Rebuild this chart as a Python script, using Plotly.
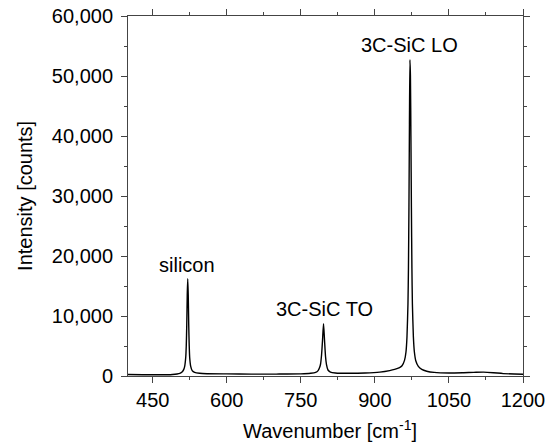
import plotly.graph_objects as go

# Raman spectrum
wavenumber = [400, 430, 460, 490, 505, 510, 513, 515, 517, 518, 519, 520, 521, 522, 523, 524, 525, 527, 530, 535, 545, 560,
              600, 650, 700, 750, 770, 780, 785, 788, 790, 792, 794, 796, 798, 800, 802, 805, 810, 820,
              850, 880, 910, 930, 940, 950, 955, 960, 963, 965, 967, 968, 969, 970, 971, 972, 973, 974, 975, 976, 978,
              980, 983, 988, 995, 1005, 1020, 1050, 1080, 1100, 1120, 1140, 1160, 1200]
intensity = [250, 220, 200, 260, 450, 700, 1100, 1700, 3200, 5000, 8500, 13500, 16200, 13500, 8500, 5000, 3000, 1600, 900, 600, 450, 380,
             350, 320, 320, 350, 450, 600, 900, 1400, 2000, 3500, 6000, 8700, 6000, 3300, 1900, 1000, 650, 500,
             450, 500, 650, 900, 1100, 1400, 1700, 2600, 4000, 6500, 12000, 18000, 28000, 42000, 52700, 50000, 40000, 28000, 18000, 12000, 6500,
             4000, 2500, 1600, 1100, 800, 600, 500, 550, 600, 650, 550, 400, 300]

peak_labels = ["silicon", "3C-SiC TO", "3C-SiC LO"]
label_x = [519.5, 797, 971]
label_y = [18500, 11200, 55200]

x_ticks = [450, 600, 750, 900, 1050, 1200]
y_ticks = [0, 10000, 20000, 30000, 40000, 50000, 60000]

x_title = "Wavenumber [cm<sup>-1</sup>]"
y_title = "Intensity [counts]"

FONT = "Liberation Sans, Arial, sans-serif"
FS = 20
AX = "#444444"

fig = go.Figure()
fig.add_trace(go.Scatter(x=wavenumber, y=intensity, mode="lines",
                         line=dict(color="black", width=1.4, shape="spline", smoothing=0.6),
                         showlegend=False, hoverinfo="skip"))

for t, xx, yy in zip(peak_labels, label_x, label_y):
    fig.add_annotation(x=xx, y=yy, text=t, showarrow=False,
                       font=dict(family=FONT, size=FS, color="black"))

# axis titles
fig.add_annotation(xref="paper", yref="paper", x=0.511, y=-0.15, text=x_title, showarrow=False,
                   xanchor="center", yanchor="middle", font=dict(family=FONT, size=FS, color="black"))
fig.add_annotation(xref="paper", yref="paper", x=-0.261, y=0.5, text=y_title, showarrow=False,
                   textangle=-90, xanchor="center", yanchor="middle",
                   font=dict(family=FONT, size=FS, color="black"))

axis_common = dict(showline=True, linecolor=AX, linewidth=1, mirror="allticks",
                   ticks="outside", ticklen=6, tickcolor=AX, tickwidth=1,
                   showgrid=False, zeroline=False, automargin=False,
                   ticklabeloverflow="allow",
                   tickfont=dict(family=FONT, size=FS, color="black"))

fig.update_xaxes(range=[400, 1200], tickvals=x_ticks, ticklabelstandoff=0,
                 minor=dict(ticks="outside", ticklen=3, dtick=75, tick0=450, tickcolor=AX),
                 **axis_common)
fig.update_yaxes(range=[0, 60000], tickvals=y_ticks, tickformat=",", ticklabelstandoff=4,
                 minor=dict(ticks="outside", ticklen=3, dtick=5000, tickcolor=AX),
                 **axis_common)

# page body adds an 8px offset, so the figure is sized to fit inside it
fig.update_layout(width=547, height=435, margin=dict(l=120, r=32, t=8, b=67),
                  plot_bgcolor="white", paper_bgcolor="white",
                  font=dict(family=FONT, size=FS, color="black"))

fig.write_html("out.html")
